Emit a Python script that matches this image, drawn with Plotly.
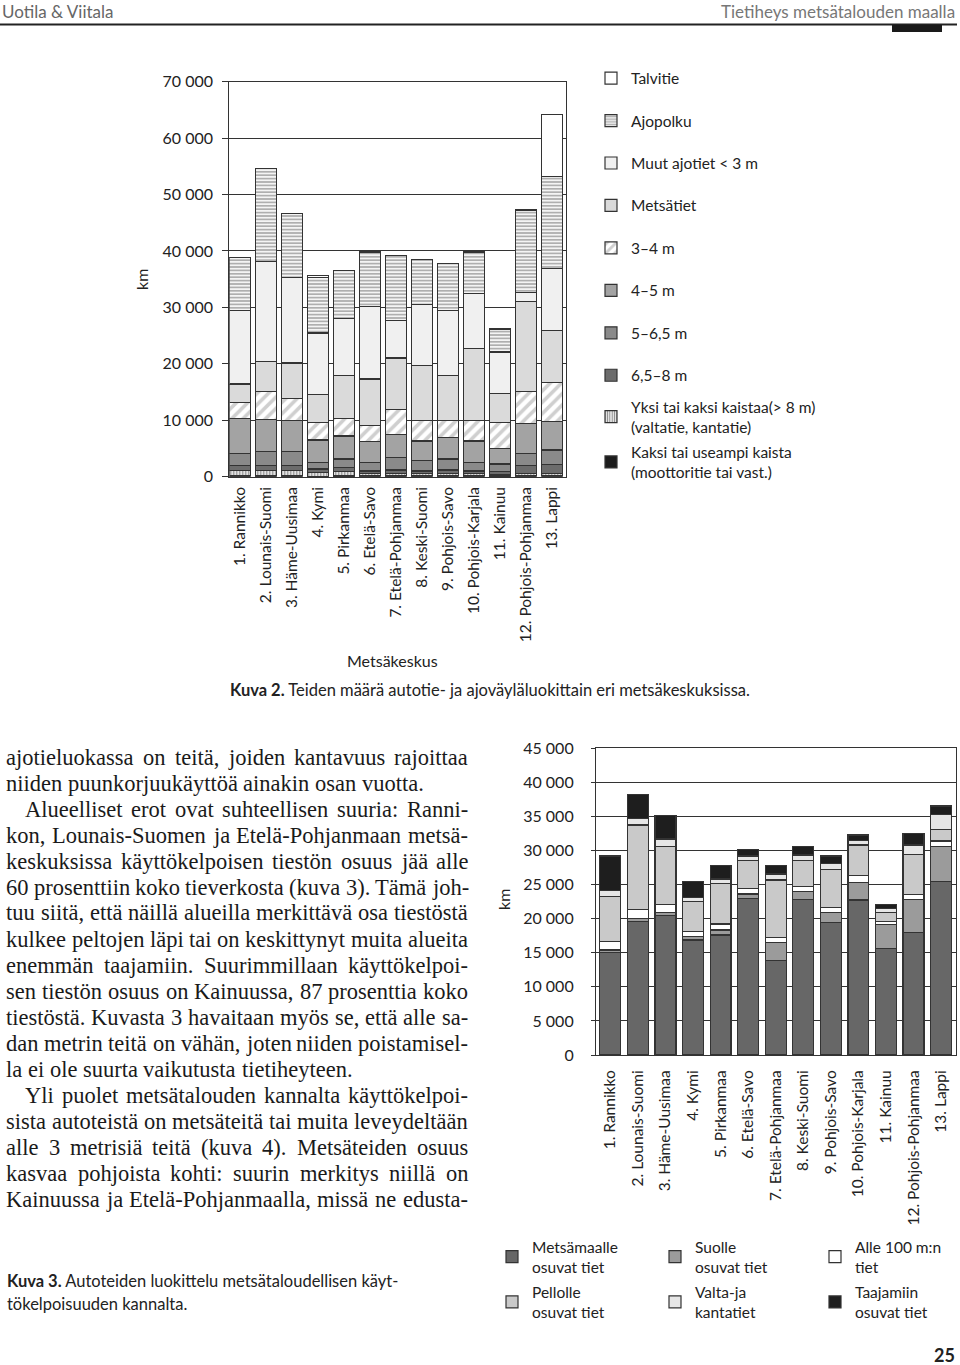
import plotly.graph_objects as go

W, H = 960, 1365


def X(p):
    return p / W


def Y(p):
    return 1 - p / H


# ---------------- data: Kuva 2 (km by road class, bottom -> top) ----------------
regions = ["1. Rannikko", "2. Lounais-Suomi", "3. Häme-Uusimaa", "4. Kymi", "5. Pirkanmaa",
           "6. Etelä-Savo", "7. Etelä-Pohjanmaa", "8. Keski-Suomi", "9. Pohjois-Savo",
           "10. Pohjois-Karjala", "11. Kainuu", "12. Pohjois-Pohjanmaa", "13. Lappi"]

kaksi_kaistaa = [150, 150, 150, 100, 120, 150, 150, 150, 150, 150, 120, 150, 150]
yksi_kaistaa = [920, 920, 920, 680, 770, 350, 400, 350, 400, 350, 300, 350, 350]
m65_8 = [880, 880, 880, 590, 710, 510, 640, 510, 640, 510, 470, 1450, 1700]
m5_65 = [2210, 2490, 2490, 1190, 1540, 1550, 2260, 1830, 1950, 1550, 1370, 2210, 2540]
m4_5 = [6210, 5630, 5510, 3960, 4090, 3660, 4080, 3500, 3790, 3780, 2780, 5320, 5030]
m3_4 = [2770, 5030, 3850, 3140, 3140, 2840, 4320, 3610, 3020, 3610, 4620, 5620, 6930]
metsatiet = [3270, 5330, 6340, 4850, 7520, 8240, 9180, 9770, 7940, 12730, 5150, 15980, 9180]
muut_ajotiet = [13020, 17650, 15210, 10960, 10120, 12900, 6630, 10780, 11540, 9720, 7290, 1600, 10960]
ajopolku = [9360, 16520, 11310, 9880, 8580, 9480, 11540, 7990, 8400, 7390, 4080, 14570, 16340]
talvitie = [0, 0, 0, 250, 0, 250, 0, 0, 0, 200, 0, 0, 11060]

y1_tickvals = [0, 10000, 20000, 30000, 40000, 50000, 60000, 70000]
y1_ticktext = ["0", "10 000", "20 000", "30 000", "40 000", "50 000", "60 000", "70 000"]

# ---------------- data: Kuva 3 (km by usability class, bottom -> top) ----------------
metsamaalle = [15000, 19550, 20430, 16860, 17600, 22980, 13830, 22830, 19460, 22730, 15640, 17990, 25410]
suolle = [400, 490, 490, 490, 730, 630, 2640, 1120, 1460, 2590, 3520, 4840, 5130]
alle_100m = [1220, 1320, 1170, 730, 880, 830, 730, 730, 680, 970, 390, 730, 840]
pellolle = [6600, 12360, 8450, 4400, 5960, 4050, 8460, 3810, 5630, 4500, 1320, 5860, 1710]
valta_kanta = [870, 980, 1130, 640, 640, 690, 880, 840, 880, 640, 640, 1370, 2200]
taajamiin = [5090, 3520, 3420, 2290, 1950, 980, 1220, 1210, 1070, 830, 580, 1710, 1220]

y2_tickvals = [0, 5000, 10000, 15000, 20000, 25000, 30000, 35000, 40000, 45000]
y2_ticktext = ["0", "5 000", "10 000", "15 000", "20 000", "25 000", "30 000", "35 000", "40 000", "45 000"]

# ---------------- styling ----------------
SANS = "Lato, 'Open Sans', sans-serif"
SERIF = "'Liberation Serif', 'Times New Roman', serif"
INK = "#222222"
EDGE = dict(color="#333333", width=1.2)

fig = go.Figure()

series1 = [
    ("Kaksi tai useampi kaista<br>(moottoritie tai vast.)", kaksi_kaistaa,
     dict(color="#1c1c1c"), "legend2", 2),
    ("Yksi tai kaksi kaistaa(> 8 m)<br>(valtatie, kantatie)", yksi_kaistaa,
     dict(color="#ffffff", pattern=dict(shape="|", fgcolor="#111111", bgcolor="#ffffff",
                                         size=3, solidity=0.5)), "legend2", 1),
    ("6,5–8 m", m65_8, dict(color="#6c6c6c"), "legend", 8),
    ("5–6,5 m", m5_65, dict(color="#8a8a8a"), "legend", 7),
    ("4–5 m", m4_5, dict(color="#a3a3a3"), "legend", 6),
    ("3–4 m", m3_4, dict(color="#ffffff", pattern=dict(shape="/", fgcolor="#a0a0a0", bgcolor="#ffffff",
                                                       size=8, solidity=0.45)), "legend", 5),
    ("Metsätiet", metsatiet, dict(color="#dadada"), "legend", 4),
    ("Muut ajotiet < 3 m", muut_ajotiet, dict(color="#f0f0f0"), "legend", 3),
    ("Ajopolku", ajopolku, dict(color="#f2f2f2", pattern=dict(shape="-", fgcolor="#6a6a6a", bgcolor="#f4f4f4",
                                                              size=3.4, solidity=0.5)), "legend", 2),
    ("Talvitie", talvitie, dict(color="#ffffff"), "legend", 1),
]

for name, vals, mk, leg, rank in series1:
    marker = dict(mk)
    marker["line"] = EDGE
    fig.add_trace(go.Bar(
        x=regions, y=vals, name=name, marker=marker, width=0.8,
        xaxis="x", yaxis="y", legend=leg, legendgroup=name, legendrank=rank,
        hovertemplate="%{x}<br>" + name.replace("<br>", " ") + ": %{y} km<extra></extra>",
    ))

series2 = [
    ("Metsämaalle<br>osuvat tiet", metsamaalle, "#676767", "legend3", 1),
    ("Suolle<br>osuvat tiet", suolle, "#9b9b9b", "legend4", 1),
    ("Alle 100 m:n<br>tiet", alle_100m, "#ffffff", "legend5", 1),
    ("Pellolle<br>osuvat tiet", pellolle, "#c9c9c9", "legend3", 2),
    ("Valta-ja<br>kantatiet", valta_kanta, "#e6e6e6", "legend4", 2),
    ("Taajamiin<br>osuvat tiet", taajamiin, "#1e1e1e", "legend5", 2),
]
for name, vals, col, leg, rank in series2:
    fig.add_trace(go.Bar(
        x=regions, y=vals, name=name, marker=dict(color=col, line=EDGE), width=0.76,
        xaxis="x2", yaxis="y2", legend=leg, legendgroup=name, legendrank=rank,
        hovertemplate="%{x}<br>" + name.replace("<br>", " ") + ": %{y} km<extra></extra>",
    ))

axis_common = dict(showline=True, linecolor="#333333", linewidth=1.2, mirror=True,
                   zeroline=False, automargin=False)

LEGFONT = dict(size=15.5, family=SANS, color=INK)

fig.update_layout(
    width=W, height=H, margin=dict(l=0, r=0, t=0, b=0, pad=0, autoexpand=False),
    paper_bgcolor="white", plot_bgcolor="white",
    barmode="stack", bargap=0.2,
    font=dict(family=SANS, color=INK, size=15),
    xaxis=dict(domain=[X(229.3), X(565.7)], anchor="y", type="category",
               range=[-0.4, 12.53], tickangle=-90, ticks="", showgrid=False,
               tickfont=dict(size=15.5, family=SANS, color=INK), ticklabelstandoff=3,
               **axis_common),
    yaxis=dict(domain=[Y(476.7), Y(81.7)], anchor="x", range=[0, 70000],
               tickvals=y1_tickvals, ticktext=y1_ticktext, ticks="outside", ticklen=6,
               tickcolor="#333333", showgrid=True, gridcolor="#333333", gridwidth=1.2,
               tickfont=dict(size=16, family=SANS, color=INK), ticklabelstandoff=6,
               **axis_common),
    xaxis2=dict(domain=[X(596), X(955.7)], anchor="y2", type="category",
                range=[-0.52, 12.53], tickangle=-90, ticks="", showgrid=False,
                tickfont=dict(size=15.5, family=SANS, color=INK), ticklabelstandoff=8,
                **axis_common),
    yaxis2=dict(domain=[Y(1055), Y(748.1)], anchor="x2", range=[0, 45000],
                tickvals=y2_tickvals, ticktext=y2_ticktext, ticks="outside", ticklen=4,
                tickcolor="#333333", showgrid=True, gridcolor="#333333", gridwidth=1.2,
                tickfont=dict(size=16, family=SANS, color=INK), ticklabelstandoff=14,
                **axis_common),
    legend=dict(x=X(591), y=Y(61.5), xanchor="left", yanchor="top", traceorder="grouped",
                tracegroupgap=19.3, bgcolor="rgba(0,0,0,0)", font=LEGFONT),
    legend2=dict(x=X(591), y=Y(390), xanchor="left", yanchor="top", traceorder="grouped",
                 tracegroupgap=2, bgcolor="rgba(0,0,0,0)", font=LEGFONT),
    legend3=dict(x=X(492), y=Y(1230), xanchor="left", yanchor="top", traceorder="grouped",
                 tracegroupgap=2, bgcolor="rgba(0,0,0,0)", font=LEGFONT),
    legend4=dict(x=X(655), y=Y(1230), xanchor="left", yanchor="top", traceorder="grouped",
                 tracegroupgap=2, bgcolor="rgba(0,0,0,0)", font=LEGFONT),
    legend5=dict(x=X(815), y=Y(1230), xanchor="left", yanchor="top", traceorder="grouped",
                 tracegroupgap=2, bgcolor="rgba(0,0,0,0)", font=LEGFONT),
)

ann = []
shapes = []


def text(px, py, s, size=16, anchor="left", color=INK, family=SANS, angle=0, vanchor="middle"):
    ann.append(dict(x=X(px), y=Y(py), xref="paper", yref="paper", text=s, showarrow=False,
                    xanchor=anchor, yanchor=vanchor, textangle=angle,
                    font=dict(size=size, family=family, color=color)))


# header
text(0, 12, "Uotila &amp; Viitala", size=17, color="#666666")
text(957, 12, "Tietiheys metsätalouden maalla", size=17, anchor="right", color="#777777")
shapes.append(dict(type="line", xref="paper", yref="paper", x0=X(0), x1=X(957), y0=Y(24.5), y1=Y(24.5),
                   line=dict(color="#222222", width=2)))
shapes.append(dict(type="rect", xref="paper", yref="paper", x0=X(892), x1=X(942), y0=Y(32), y1=Y(25),
                   line=dict(width=0), fillcolor="#1a1a1a"))

# chart 1 labels
text(142, 280, "km", size=16, anchor="center", angle=-90)
text(392, 660, "Metsäkeskus", size=16, anchor="center")
text(228, 690, "<b>Kuva 2.</b> Teiden määrä autotie- ja ajoväyläluokittain eri metsäkeskuksissa.", size=16.5)

# chart 2 labels
text(503, 900, "km", size=16, anchor="center", angle=-90)
text(5, 1281, "<b>Kuva 3.</b> Autoteiden luokittelu metsätaloudellisen käyt-", size=16.5)
text(5, 1304, "tökelpoisuuden kannalta.", size=16.5)

# page number
text(957, 1355, "<b>25</b>", size=18, anchor="right")

# body text (justified by placing words)
TNR = {' ': 250, '!': 333, '(': 333, ')': 333, ',': 250, '-': 333, '.': 250, ':': 278, ';': 278,
       'A': 722, 'B': 667, 'C': 667, 'D': 722, 'E': 611, 'F': 556, 'G': 722, 'H': 722, 'I': 333,
       'J': 389, 'K': 722, 'L': 611, 'M': 889, 'N': 722, 'O': 722, 'P': 556, 'Q': 722, 'R': 667,
       'S': 556, 'T': 611, 'U': 722, 'V': 722, 'W': 944, 'X': 722, 'Y': 722, 'Z': 611,
       'a': 444, 'b': 500, 'c': 444, 'd': 500, 'e': 444, 'f': 333, 'g': 500, 'h': 500, 'i': 278,
       'j': 278, 'k': 500, 'l': 278, 'm': 778, 'n': 500, 'o': 500, 'p': 500, 'q': 500, 'r': 333,
       's': 389, 't': 278, 'u': 500, 'v': 500, 'w': 722, 'x': 500, 'y': 500, 'z': 444,
       'ä': 444, 'ö': 500, 'Ä': 722, 'Ö': 722}
BODY = 22.5


def tw(s):
    return sum(TNR.get(c, 500) for c in s) * BODY / 1000


body_lines = [
    ("ajotieluokassa on teitä, joiden kantavuus rajoittaa", 4, True),
    ("niiden puunkorjuukäyttöä ainakin osan vuotta.", 4, False),
    ("Alueelliset erot ovat suhteellisen suuria: Ranni-", 23, True),
    ("kon, Lounais-Suomen ja Etelä-Pohjanmaan metsä-", 4, True),
    ("keskuksissa käyttökelpoisen tiestön osuus jää alle", 4, True),
    ("60 prosenttiin koko tieverkosta (kuva 3). Tämä joh-", 4, True),
    ("tuu siitä, että näillä alueilla merkittävä osa tiestöstä", 4, True),
    ("kulkee peltojen läpi tai on keskittynyt muita alueita", 4, True),
    ("enemmän taajamiin. Suurimmillaan käyttökelpoi-", 4, True),
    ("sen tiestön osuus on Kainuussa, 87 prosenttia koko", 4, True),
    ("tiestöstä. Kuvasta 3 havaitaan myös se, että alle sa-", 4, True),
    ("dan metrin teitä on vähän, joten niiden poistamisel-", 4, True),
    ("la ei ole suurta vaikutusta tietiheyteen.", 4, False),
    ("Yli puolet metsätalouden kannalta käyttökelpoi-", 23, True),
    ("sista autoteistä on metsäteitä tai muita leveydeltään", 4, True),
    ("alle 3 metrisiä teitä (kuva 4). Metsäteiden osuus", 4, True),
    ("kasvaa pohjoista kohti: suurin merkitys niillä on", 4, True),
    ("Kainuussa ja Etelä-Pohjanmaalla, missä ne edusta-", 4, True),
]
RIGHT = 466
for i, (line, x0, just) in enumerate(body_lines):
    yy = 757 + 26 * i
    words = line.split(" ")
    if just and len(words) > 1:
        gap = (RIGHT - x0 - sum(tw(w) for w in words)) / (len(words) - 1)
    else:
        gap = tw(" ")
    xx = x0
    for w in words:
        text(xx, yy, w, size=BODY, family=SERIF, color="#1a1a1a")
        xx += tw(w) + gap

fig.update_layout(annotations=ann, shapes=shapes)
fig.write_html(
    "out.html",
    config={"displayModeBar": False},
    post_script=(
        "var s=document.documentElement.style;s.margin='0';s.padding='0';s.overflow='hidden';"
        "s.height='1365px';"
        "var b=document.body.style;b.margin='0';b.padding='0';b.overflow='hidden';b.height='1365px';"
        "var d=document.getElementById('{plot_id}');"
        "d.style.position='fixed';d.style.top='0px';d.style.left='0px';"
    ),
)
